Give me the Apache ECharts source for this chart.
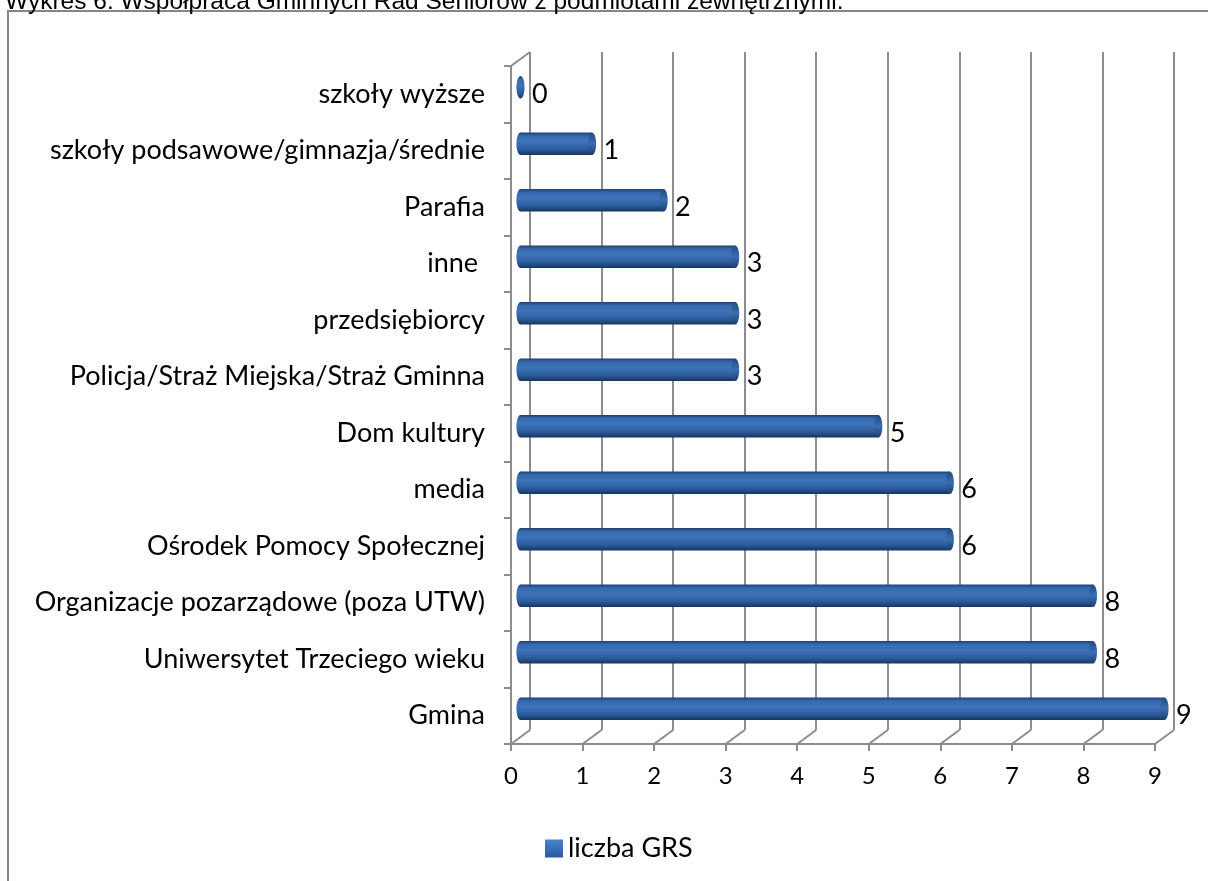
<!DOCTYPE html>
<html>
<head>
<meta charset="utf-8">
<script src="https://cdn.jsdelivr.net/npm/echarts@6/dist/echarts.min.js"></script>
<style>
  html, body { margin: 0; padding: 0; background: #fff; }
  #chart { width: 1208px; height: 881px; }
</style>
</head>
<body>
<div id="chart"></div>
<script>
// dane wykresu (od góry do dołu)
var categories = [
  'szkoły wyższe',
  'szkoły podsawowe/gimnazja/średnie',
  'Parafia',
  'inne ',
  'przedsiębiorcy',
  'Policja/Straż Miejska/Straż Gminna',
  'Dom kultury',
  'media',
  'Ośrodek Pomocy Społecznej',
  'Organizacje pozarządowe (poza UTW)',
  'Uniwersytet Trzeciego wieku',
  'Gmina'
];
var values = [0, 1, 2, 3, 3, 3, 5, 6, 6, 8, 8, 9];
var xTicks = [0, 1, 2, 3, 4, 5, 6, 7, 8, 9];
var seriesName = 'liczba GRS';
var titleText = 'Wykres 6. Współpraca Gminnych Rad Seniorów z podmiotami zewnętrznymi.';

// przesunięcie "głębi" 3D
var DX = 19, DY = -14;
var gridColor = '#8c8c8c';
var font = 'Lato, "Open Sans", sans-serif';

var chart = echarts.init(document.getElementById('chart'));

var front = { left: 511, right: 53, top: 66, bottom: 137 };
var back = { left: front.left + DX, right: front.right - DX, top: front.top + DY, bottom: front.bottom - DY };
var mid = { left: front.left + DX / 2, right: front.right - DX / 2, top: front.top + DY / 2, bottom: front.bottom - DY / 2 };

function valueAxis(gridIndex, show) {
  return {
    type: 'value', gridIndex: gridIndex, min: 0, max: 9, interval: 1,
    axisLine: { show: show, lineStyle: { color: gridColor, width: 2 } },
    axisTick: { show: show, length: 7, lineStyle: { color: gridColor, width: 2 } },
    axisLabel: { show: show, color: '#000', fontSize: 24, fontFamily: font, margin: 20 },
    splitLine: { show: gridIndex === 1, lineStyle: { color: gridColor, width: 2 } }
  };
}
function catAxis(gridIndex, show) {
  return {
    type: 'category', gridIndex: gridIndex, data: categories, inverse: true,
    axisLine: { show: show, lineStyle: { color: gridColor, width: 2 } },
    axisTick: { show: show, length: 7, lineStyle: { color: gridColor, width: 2 } },
    axisLabel: { show: show, color: '#000', fontSize: 27, fontFamily: font, margin: 26 },
    splitLine: { show: false }
  };
}

function barShape(params, api) {
  var v = api.value(0), c = api.value(1);
  var s = api.coord([0, c]);
  var e = api.coord([v, c]);
  var h = api.size([0, 1])[1] * 0.4;
  var rx = h * 0.18;
  var body = new echarts.graphic.LinearGradient(0, 0, 0, 1, [
    { offset: 0, color: '#1d3f6e' },
    { offset: 0.15, color: '#3668ad' },
    { offset: 0.4, color: '#3e74bb' },
    { offset: 0.75, color: '#2c5c9c' },
    { offset: 1, color: '#16345e' }
  ]);
  var cap = new echarts.graphic.LinearGradient(0, 0, 0, 1, [
    { offset: 0, color: '#24497d' },
    { offset: 0.5, color: '#3a6db2' },
    { offset: 1, color: '#1c3e6c' }
  ]);
  var children = [];
  children.push({ type: 'ellipse', shape: { cx: s[0], cy: s[1], rx: rx, ry: h / 2 }, style: { fill: body } });
  if (e[0] - s[0] > 0.5) {
    children.push({ type: 'rect', shape: { x: s[0], y: s[1] - h / 2, width: e[0] - s[0], height: h }, style: { fill: body } });
    children.push({ type: 'ellipse', shape: { cx: e[0], cy: e[1], rx: rx, ry: h / 2 }, style: { fill: cap } });
  }
  children.push({
    type: 'text',
    x: e[0] + DX / 2 + 2, y: e[1] - DY / 2,
    style: { text: String(v), fill: '#000', font: '27px ' + font, textAlign: 'left', textVerticalAlign: 'middle' }
  });
  return { type: 'group', children: children };
}

function frameShape(params, api) {
  var cs = params.coordSys;
  var p = api.coord([api.value(0), 0]);
  var bottom = cs.y + cs.height;
  var children = [{
    type: 'line',
    shape: { x1: p[0], y1: bottom, x2: p[0] + DX, y2: bottom + DY },
    style: { stroke: gridColor, lineWidth: 2 }
  }];
  if (params.dataIndex === 0) {
    children.push({
      type: 'line',
      shape: { x1: cs.x, y1: cs.y, x2: cs.x + DX, y2: cs.y + DY },
      style: { stroke: gridColor, lineWidth: 2 }
    });
  }
  return { type: 'group', children: children };
}

chart.setOption({
  animation: false,
  title: {
    text: titleText, left: 0, top: -15,
    textStyle: { fontFamily: '"Liberation Sans", Arial, sans-serif', fontSize: 24.5, fontWeight: 'normal', color: '#000' }
  },
  graphic: [{
    type: 'rect', z: -10,
    shape: { x: 8, y: 11, width: 1210, height: 880 },
    style: { fill: 'none', stroke: '#868686', lineWidth: 2 }
  }],
  legend: {
    left: 540, top: 830,
    itemWidth: 18, itemHeight: 18, itemGap: 9,
    icon: 'rect',
    textStyle: { fontSize: 27, fontFamily: font, color: '#000' },
    data: [seriesName]
  },
  grid: [
    Object.assign({ containLabel: false }, front),
    Object.assign({ containLabel: false }, back),
    Object.assign({ containLabel: false }, mid)
  ],
  xAxis: [valueAxis(0, true), valueAxis(1, false), valueAxis(2, false)],
  yAxis: [catAxis(0, true), catAxis(1, false), catAxis(2, false)],
  series: [
    {
      type: 'custom', name: 'frame', xAxisIndex: 0, yAxisIndex: 0,
      renderItem: frameShape, silent: true, z: 1,
      data: xTicks.map(function (t) { return [t]; })
    },
    {
      type: 'custom', name: seriesName, xAxisIndex: 2, yAxisIndex: 2,
      renderItem: barShape, z: 5,
      itemStyle: {
        color: new echarts.graphic.LinearGradient(0, 0, 0, 1, [
          { offset: 0, color: '#4a82cc' }, { offset: 1, color: '#2a5a9c' }
        ])
      },
      encode: { x: 0, y: 1 },
      data: values.map(function (v, i) { return [v, i]; })
    }
  ]
});
</script>
</body>
</html>
